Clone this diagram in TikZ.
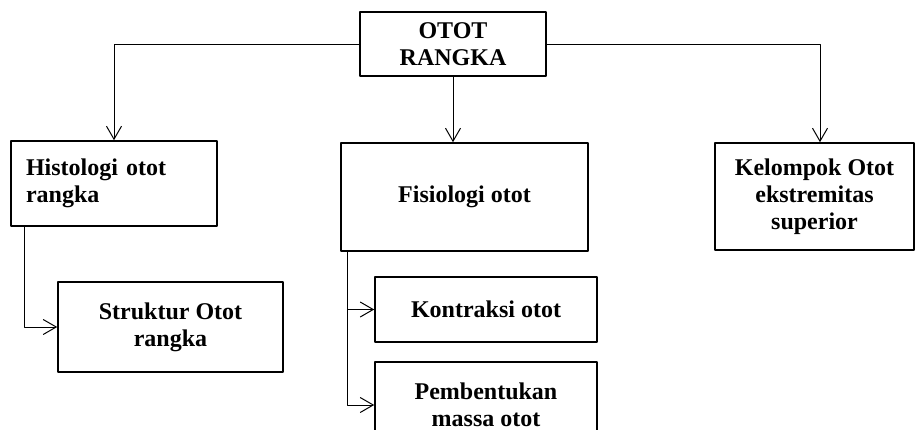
\documentclass[tikz,border=0pt]{standalone}
\usepackage{fontspec}
\setmainfont{Liberation Serif}
\usetikzlibrary{arrows.meta}
\begin{document}
\begin{tikzpicture}[x=0.5pt, y=-0.5pt, line join=round,
  kotak/.style={draw, line width=0.8pt, inner sep=0pt, align=center,
    font=\fontsize{12}{13.5}\selectfont\bfseries},
  panah/.style={-{Straight Barb[length=6.5pt, width=7.5pt]}, line width=0.5pt}]
% Batas gambar
\useasboundingbox (0,0) rectangle (915,429);
% Kotak utama
\node[kotak, minimum width=93pt, minimum height=32pt] (otot) at (453,44) {OTOT\\RANGKA};
% Kotak tingkat kedua
\node[kotak, align=left, text width=88pt, inner xsep=7.5pt, minimum height=42.5pt] (histo) at (114,183.5) {Histologi otot\\rangka};
\node[kotak, minimum width=123.5pt, minimum height=54pt] (fisio) at (464.5,197) {Fisiologi otot};
\node[kotak, minimum width=99.5pt, minimum height=53.5pt] (kelompok) at (814.5,196.5) {Kelompok Otot\\ekstremitas\\superior};
% Kotak tingkat ketiga
\node[kotak, minimum width=112.5pt, minimum height=45pt] (struktur) at (170.5,327) {Struktur Otot\\rangka};
\node[kotak, minimum width=111pt, minimum height=32.5pt] (kontraksi) at (486,309.5) {Kontraksi otot};
\node[kotak, minimum width=111pt, minimum height=43pt] (massa) at (486,405) {Pembentukan\\massa otot};
% Garis penghubung
\draw[panah] (otot.west) -| (histo.north);
\draw[panah] (otot.south) -- (otot.south |- fisio.north);
\draw[panah] (otot.east) -| ([xshift=2.75pt]kelompok.north);
\draw[panah] ([xshift=7pt]histo.south west) |- (struktur.west);
\draw[panah] ([xshift=3.5pt]fisio.south west) |- (kontraksi.west);
\draw[panah] ([xshift=3.5pt]fisio.south west) |- (massa.west);
\end{tikzpicture}
\end{document}
